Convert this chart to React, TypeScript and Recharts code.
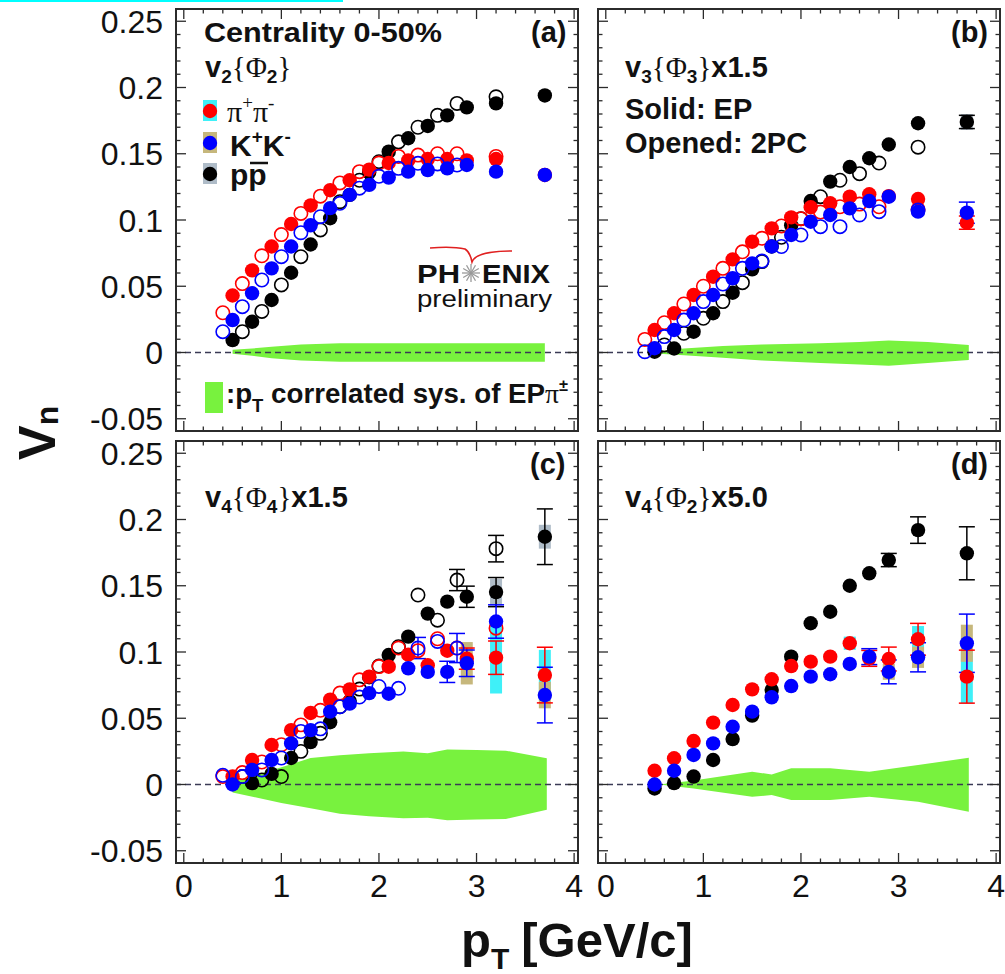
import React from "react";
import { ComposedChart, Scatter, Area, XAxis, YAxis, ReferenceLine, ErrorBar } from "recharts";

// [pT, value, stat. error, sys. error]
type Row = [number, number, number?, number?];

// ---- panel (a): v2{Phi2}
const A_PI_EP: Row[] = [[0.5, 0.043], [0.7, 0.062], [0.9, 0.08], [1.1, 0.097], [1.3, 0.111], [1.5, 0.1225], [1.7, 0.13], [1.9, 0.138], [2.1, 0.143], [2.3, 0.145], [2.5, 0.146], [2.7, 0.146], [2.9, 0.145], [3.2, 0.146], [3.7, 0.134]];
const A_PI_2PC: Row[] = [[0.4, 0.03], [0.6, 0.052], [0.8, 0.073], [1.0, 0.089], [1.2, 0.105], [1.4, 0.118], [1.6, 0.128], [1.8, 0.1365], [2.0, 0.143], [2.2, 0.148], [2.4, 0.149], [2.6, 0.15], [2.8, 0.15], [3.2, 0.148]];
const A_K_EP: Row[] = [[0.5, 0.0245], [0.7, 0.0447], [0.9, 0.0635], [1.1, 0.08], [1.3, 0.096], [1.5, 0.109], [1.7, 0.119], [1.9, 0.1265], [2.1, 0.132], [2.3, 0.1365], [2.5, 0.1377], [2.7, 0.139], [2.9, 0.1415], [3.2, 0.1365], [3.7, 0.134]];
const A_K_2PC: Row[] = [[0.4, 0.0157], [0.6, 0.0346], [0.8, 0.0547], [1.0, 0.0723], [1.2, 0.0904], [1.4, 0.1025], [1.6, 0.1126], [1.8, 0.124], [2.0, 0.133], [2.2, 0.139], [2.4, 0.1428], [2.6, 0.1423], [2.8, 0.1415]];
const A_P_EP: Row[] = [[0.5, 0.0094], [0.7, 0.0232], [0.9, 0.0396], [1.1, 0.0602], [1.3, 0.0815], [1.5, 0.1013], [1.7, 0.119], [1.9, 0.136], [2.1, 0.1516], [2.3, 0.1617], [2.5, 0.171], [2.7, 0.179], [2.9, 0.185], [3.2, 0.188], [3.7, 0.194]];
const A_P_2PC: Row[] = [[0.6, 0.0157], [0.8, 0.031], [1.0, 0.051], [1.2, 0.0723], [1.4, 0.0925], [1.6, 0.1138], [1.8, 0.13], [2.0, 0.144], [2.2, 0.159], [2.4, 0.17], [2.6, 0.179], [2.8, 0.188], [3.2, 0.193]];
const A_BAND_X = [0.5, 0.7, 0.9, 1.2, 1.6, 2.0, 2.5, 3.0, 3.7];
const A_BAND_LO = [-0.001, -0.0025, -0.0044, -0.006, -0.007, -0.007, -0.007, -0.007, -0.007];
const A_BAND_HI = [0.002, 0.003, 0.0044, 0.006, 0.007, 0.007, 0.007, 0.007, 0.007];

// ---- panel (b): v3{Phi3} x1.5
const B_PI_EP: Row[] = [[0.5, 0.017], [0.7, 0.0296], [0.9, 0.0434], [1.1, 0.0572], [1.3, 0.0703], [1.5, 0.0836], [1.7, 0.0937], [1.9, 0.102], [2.1, 0.1096], [2.3, 0.1126], [2.5, 0.1176], [2.7, 0.1194], [2.9, 0.118], [3.2, 0.1158], [3.7, 0.098, 0.005]];
const B_PI_2PC: Row[] = [[0.4, 0.0099], [0.6, 0.0225], [0.8, 0.0366], [1.0, 0.05], [1.2, 0.0635], [1.4, 0.076], [1.6, 0.0862], [1.8, 0.0955], [2.0, 0.101], [2.2, 0.106], [2.4, 0.11], [2.6, 0.112], [2.8, 0.11], [3.2, 0.108]];
const B_K_EP: Row[] = [[0.5, 0.0032], [0.7, 0.017], [0.9, 0.0296], [1.1, 0.0434], [1.3, 0.056], [1.5, 0.0673], [1.7, 0.08], [1.9, 0.0887], [2.1, 0.0987], [2.3, 0.1038], [2.5, 0.1088], [2.7, 0.1143], [2.9, 0.1176], [3.2, 0.1063], [3.7, 0.1055, 0.008]];
const B_K_2PC: Row[] = [[0.4, 0.0006], [0.6, 0.012], [0.8, 0.0245], [1.0, 0.0384], [1.2, 0.0517], [1.4, 0.0635], [1.6, 0.069], [1.8, 0.08], [2.0, 0.0887], [2.2, 0.095], [2.4, 0.095], [2.6, 0.1038], [2.8, 0.1063], [3.2, 0.1075]];
const B_P_EP: Row[] = [[0.5, 0.0006], [0.7, 0.003], [0.9, 0.0157], [1.1, 0.0296], [1.3, 0.0451], [1.5, 0.0628], [1.7, 0.08], [1.9, 0.096], [2.1, 0.1143], [2.3, 0.129], [2.5, 0.14], [2.7, 0.1466], [2.9, 0.157], [3.2, 0.173], [3.7, 0.174, 0.005, 0.006]];
const B_P_2PC: Row[] = [[0.6, 0.0057], [0.8, 0.0145], [1.0, 0.0258], [1.2, 0.0384], [1.4, 0.0527], [1.6, 0.0686], [1.8, 0.087], [2.0, 0.101], [2.2, 0.1176], [2.4, 0.13], [2.6, 0.135], [2.8, 0.143], [3.2, 0.155]];
const B_BAND_X = [0.55, 0.8, 1.2, 1.6, 2.2, 2.6, 2.9, 3.3, 3.72];
const B_BAND_LO = [-0.001, -0.002, -0.004, -0.006, -0.008, -0.009, -0.01, -0.008, -0.0057];
const B_BAND_HI = [0.001, 0.003, 0.005, 0.006, 0.007, 0.008, 0.009, 0.008, 0.0057];

// ---- panel (c): v4{Phi4} x1.5
const C_PI_EP: Row[] = [[0.5, 0.006], [0.7, 0.0185], [0.9, 0.0298], [1.1, 0.041], [1.3, 0.054], [1.5, 0.064], [1.7, 0.0718], [1.9, 0.0814], [2.1, 0.0889], [2.3, 0.098], [2.5, 0.09], [2.7, 0.101], [2.9, 0.095, 0.008], [3.2, 0.0957, 0.0126, 0.027], [3.7, 0.0826, 0.021, 0.019]];
const C_PI_2PC: Row[] = [[0.4, 0.006], [0.6, 0.009], [0.8, 0.017], [1.0, 0.03], [1.2, 0.045], [1.4, 0.056], [1.6, 0.069], [1.8, 0.079], [2.0, 0.089], [2.2, 0.103], [2.4, 0.101], [2.6, 0.11], [2.8, 0.103], [3.2, 0.118]];
const C_K_EP: Row[] = [[0.5, 0.0], [0.7, 0.011], [0.9, 0.0185], [1.1, 0.031], [1.3, 0.041], [1.5, 0.055], [1.7, 0.061], [1.9, 0.069], [2.1, 0.0685], [2.3, 0.0877], [2.5, 0.085], [2.7, 0.085, 0.008], [2.9, 0.0915, 0.01, 0.016], [3.2, 0.123, 0.0126], [3.7, 0.0675, 0.021, 0.01]];
const C_K_2PC: Row[] = [[0.4, 0.007], [0.6, 0.006], [0.8, 0.011], [1.0, 0.02], [1.2, 0.04], [1.4, 0.042], [1.6, 0.0587], [1.8, 0.066], [2.0, 0.074], [2.2, 0.0726], [2.4, 0.103, 0.008], [2.6, 0.108], [2.8, 0.103, 0.011]];
const C_P_EP: Row[] = [[0.7, 0.001], [0.9, 0.008], [1.1, 0.02], [1.3, 0.032], [1.5, 0.047], [1.7, 0.063], [1.9, 0.081], [2.1, 0.0977], [2.3, 0.1116], [2.5, 0.129], [2.7, 0.138], [2.9, 0.1417, 0.008], [3.2, 0.1452, 0.011, 0.01], [3.7, 0.187, 0.021, 0.009]];
const C_P_2PC: Row[] = [[0.6, 0.006], [0.8, 0.0034], [1.0, 0.006], [1.2, 0.025], [1.4, 0.0386], [1.6, 0.0587], [1.8, 0.072], [2.0, 0.0894], [2.2, 0.104], [2.4, 0.143], [2.6, 0.124], [2.8, 0.1543, 0.008], [3.2, 0.178, 0.01]];
const C_BAND_X = [0.5, 1.0, 1.3, 1.6, 1.9, 2.25, 2.5, 2.7, 3.0, 3.3, 3.72];
const C_BAND_LO = [-0.006, -0.014, -0.018, -0.022, -0.024, -0.0255, -0.025, -0.027, -0.0265, -0.026, -0.019];
const C_BAND_HI = [0.002, 0.013, 0.02, 0.022, 0.0235, 0.025, 0.0235, 0.0265, 0.026, 0.0255, 0.0198];

// ---- panel (d): v4{Phi2} x5.0
const D_PI_EP: Row[] = [[0.5, 0.0104], [0.7, 0.0198], [0.9, 0.0328], [1.1, 0.0467], [1.3, 0.06], [1.5, 0.0718], [1.7, 0.0794], [1.9, 0.0894], [2.1, 0.0927], [2.3, 0.0965], [2.5, 0.1066, 0, 0.005], [2.7, 0.0952, 0.006], [2.9, 0.0947, 0.009], [3.2, 0.1096, 0.012, 0.01], [3.7, 0.0814, 0.02, 0.02]];
const D_K_EP: Row[] = [[0.5, 0.0], [0.7, 0.0104], [0.9, 0.0223], [1.1, 0.031], [1.3, 0.0436], [1.5, 0.055], [1.7, 0.0658], [1.9, 0.0743], [2.1, 0.0814], [2.3, 0.0832], [2.5, 0.091], [2.7, 0.0965, 0.006], [2.9, 0.085, 0.009, 0.006], [3.2, 0.096, 0.011, 0.008], [3.7, 0.1066, 0.022, 0.014]];
const D_P_EP: Row[] = [[0.5, -0.003], [0.7, 0.001], [0.9, 0.006], [1.1, 0.0185], [1.3, 0.0343], [1.5, 0.052], [1.7, 0.0713], [1.9, 0.0965], [2.1, 0.1217], [2.3, 0.1304], [2.5, 0.15], [2.7, 0.1594], [2.9, 0.1694, 0.005], [3.2, 0.192, 0.01], [3.7, 0.1745, 0.02]];
const D_BAND_X = [0.55, 0.9, 1.5, 1.7, 1.9, 2.3, 2.7, 3.2, 3.72];
const D_BAND_LO = [0, -0.003, -0.0092, -0.008, -0.0117, -0.0117, -0.0092, -0.013, -0.0205];
const D_BAND_HI = [0, 0.003, 0.0097, 0.0075, 0.0122, 0.0122, 0.0097, 0.0147, 0.0202];

// ---- axes
const X_MAJOR = [0, 1, 2, 3, 4];
const X_MINOR = [0.2, 0.4, 0.6, 0.8, 1.2, 1.4, 1.6, 1.8, 2.2, 2.4, 2.6, 2.8, 3.2, 3.4, 3.6, 3.8];
const Y_MAJOR = [-0.05, 0, 0.05, 0.1, 0.15, 0.2, 0.25];
const Y_MINOR = [-0.04, -0.03, -0.02, -0.01, 0.01, 0.02, 0.03, 0.04, 0.06, 0.07, 0.08, 0.09, 0.11, 0.12, 0.13, 0.14, 0.16, 0.17, 0.18, 0.19, 0.21, 0.22, 0.23, 0.24];

const RED = "#ff0000";
const BLUE = "#0000ff";
const BLACK = "#000000";
const CYAN = "#3ff0f8";
const KHAKI = "#c6b77c";
const GREYBOX = "#afbcc8";
const GREEN = "#78f23e";
const FRAME = "#2b2b2b";
const SANS = "'Liberation Sans', Arial, Helvetica, sans-serif";
const SERIF = "'Liberation Serif', 'DejaVu Serif', serif";

const PW = 404;
const PH = 424;
const ML = 100;
const MT = 12;
const MR = 12;
const MB = 50;

type Series = { rows: Row[]; color: string; open?: boolean; sys?: string };

const toPts = (rows: Row[]) => rows.map(([x, y, e, s]) => ({ x, y, e, s }));
const toBand = (xs: number[], lo: number[], hi: number[]) => xs.map((x, i) => ({ x, band: [lo[i], hi[i]] }));
const isIn = (arr: number[], v: number) => arr.some((m) => Math.abs(m - v) < 1e-9);

const marker = (color: string, open?: boolean) => (p: any) =>
  open ? (
    <circle cx={p.cx} cy={p.cy} r={6.7} fill="none" stroke={color} strokeWidth={1.6} />
  ) : (
    <circle cx={p.cx} cy={p.cy} r={7.2} fill={color} />
  );

function Panel({ left, top, band, series, xLabels, yLabels }: { left: number; top: number; band: any[]; series: Series[]; xLabels?: boolean; yLabels?: boolean }) {
  const yTick = (p: any) => {
    const { x, y, payload } = p;
    const major = isIn(Y_MAJOR, payload.value);
    const len = major ? 11 : 5.5;
    return (
      <g>
        <line x1={x} x2={x + len} y1={y} y2={y} stroke={FRAME} strokeWidth={1.3} />
        <line x1={x + PW} x2={x + PW - len} y1={y} y2={y} stroke={FRAME} strokeWidth={1.3} />
        {yLabels && major && (
          <text x={x - 12} y={y + 11.5} textAnchor="end" fontSize={32} fontFamily={SANS} fill="#111">
            {String(payload.value)}
          </text>
        )}
      </g>
    );
  };
  const xTick = (p: any) => {
    const { x, y, payload } = p;
    const major = isIn(X_MAJOR, payload.value);
    const len = major ? 11 : 5.5;
    return (
      <g>
        <line x1={x} x2={x} y1={y} y2={y - len} stroke={FRAME} strokeWidth={1.3} />
        <line x1={x} x2={x} y1={y - PH} y2={y - PH + len} stroke={FRAME} strokeWidth={1.3} />
        {xLabels && major && (
          <text x={x} y={y + 33} textAnchor="middle" fontSize={32} fontFamily={SANS} fill="#111">
            {String(payload.value)}
          </text>
        )}
      </g>
    );
  };

  return (
    <div style={{ position: "absolute", left: left - ML, top: top - MT }}>
      <ComposedChart width={PW + ML + MR} height={PH + MT + MB} data={band} margin={{ left: 10, top: MT, right: MR, bottom: 10 }}>
        <XAxis type="number" dataKey="x" domain={[-0.09, 4.05]} allowDataOverflow ticks={[...X_MAJOR, ...X_MINOR]} interval={0} tick={xTick} tickLine={false} axisLine={false} height={MB - 10} tickSize={0} tickMargin={0} />
        <YAxis type="number" dataKey="y" domain={[-0.06, 0.26]} allowDataOverflow ticks={[...Y_MAJOR, ...Y_MINOR]} interval={0} tick={yTick} tickLine={false} axisLine={false} width={ML - 10} tickSize={0} tickMargin={0} />
        <Area dataKey="band" type="linear" stroke="none" fill={GREEN} fillOpacity={1} isAnimationActive={false} />
        <ReferenceLine y={0} stroke="#3a3a55" strokeDasharray="6 4" strokeWidth={1.3} />
        {series
          .filter((s) => s.sys)
          .map((s, i) => (
            <Scatter key={"sys" + i} data={toPts(s.rows)} shape={() => <g />} isAnimationActive={false}>
              <ErrorBar dataKey="s" direction="y" width={0} stroke={s.sys} strokeWidth={12} isAnimationActive={false} />
            </Scatter>
          ))}
        {series.map((s, i) => (
          <Scatter key={"s" + i} data={toPts(s.rows)} shape={marker(s.color, s.open)} isAnimationActive={false}>
            <ErrorBar dataKey="e" direction="y" width={8} stroke={s.color} strokeWidth={1.5} isAnimationActive={false} />
          </Scatter>
        ))}
      </ComposedChart>
      <div style={{ position: "absolute", left: ML, top: MT, width: PW, height: PH, border: `2px solid ${FRAME}`, boxSizing: "border-box", pointerEvents: "none" }} />
    </div>
  );
}

const B = { fontFamily: SANS, fontWeight: 700, fill: "#111" } as const;

function Annotations() {
  const star = Array.from({ length: 12 }, (_, i) => (i * Math.PI) / 6);
  return (
    <svg width={1005} height={974} style={{ position: "absolute", left: 0, top: 0, pointerEvents: "none" }}>
      <rect x={0} y={0} width={343} height={2} fill="#00ffff" />

      {/* panel (a) */}
      <text x={204} y={42} fontSize={28} {...B} textLength={238} lengthAdjust="spacingAndGlyphs">Centrality 0-50%</text>
      <text x={531} y={42} fontSize={29} {...B}>(a)</text>
      <text x={205} y={77} fontSize={29} {...B}>
        v<tspan fontSize={19} dy={6}>2</tspan>
        <tspan dy={-6} fontFamily={SERIF} fontWeight={400}>{"{Φ"}</tspan>
        <tspan fontSize={19} dy={6}>2</tspan>
        <tspan dy={-6} fontFamily={SERIF} fontWeight={400}>{"}"}</tspan>
      </text>

      <rect x={203} y={100} width={14} height={21} fill={CYAN} />
      <circle cx={210} cy={111} r={7.2} fill={RED} />
      <text x={227} y={122} fontSize={30} fontFamily={SERIF} fill="#111">
        π<tspan fontSize={19} dy={-13}>+</tspan>
        <tspan dy={13}>π</tspan>
        <tspan fontSize={19} dy={-13}>-</tspan>
      </text>
      <rect x={203} y={132} width={14} height={21} fill={KHAKI} />
      <circle cx={210} cy={143} r={7.2} fill={BLUE} />
      <text x={230} y={156} fontSize={30} {...B}>
        K<tspan fontSize={19} dy={-13}>+</tspan>
        <tspan dy={13}>K</tspan>
        <tspan fontSize={19} dy={-13}>-</tspan>
      </text>
      <rect x={203} y={163} width={14} height={21} fill={GREYBOX} />
      <circle cx={210} cy={174} r={7.2} fill={BLACK} />
      <text x={230} y={185} fontSize={30} {...B}>pp</text>
      <line x1={250} x2={268} y1={163} y2={163} stroke="#111" strokeWidth={2.5} />

      {/* PHENIX logo */}
      <path d="M430,248 Q452,246 465,249 Q470,252 472,262 Q476,251 512,251" fill="none" stroke="#e02020" strokeWidth={1.6} />
      <text x={417} y={283} fontSize={26} {...B} textLength={43} lengthAdjust="spacingAndGlyphs">PH</text>
      {star.map((a, i) => (
        <line key={i} x1={471} y1={273} x2={471 + 9 * Math.cos(a)} y2={273 + 9 * Math.sin(a)} stroke="#9a9a9a" strokeWidth={1.3} />
      ))}
      <text x={482} y={283} fontSize={26} {...B} textLength={68} lengthAdjust="spacingAndGlyphs">ENIX</text>
      <text x={417} y={307} fontSize={23} fontFamily={SANS} fill="#111" textLength={135} lengthAdjust="spacingAndGlyphs">preliminary</text>

      <rect x={205} y={382} width={18} height={31} fill={GREEN} />
      <text x={226} y={403} fontSize={27} {...B} textLength={342} lengthAdjust="spacingAndGlyphs">
        :p<tspan fontSize={18} dy={9}>T</tspan>
        <tspan dy={-9}> correlated sys. of EP</tspan>
        <tspan fontFamily={SERIF} fontWeight={400}>π</tspan>
        <tspan fontSize={16} dy={-12}>±</tspan>
      </text>

      {/* panel (b) */}
      <text x={951} y={42} fontSize={29} {...B}>(b)</text>
      <text x={625} y={77} fontSize={29} {...B}>
        v<tspan fontSize={19} dy={6}>3</tspan>
        <tspan dy={-6} fontFamily={SERIF} fontWeight={400}>{"{Φ"}</tspan>
        <tspan fontSize={19} dy={6}>3</tspan>
        <tspan dy={-6} fontFamily={SERIF} fontWeight={400}>{"}"}</tspan>
        <tspan>x1.5</tspan>
      </text>
      <text x={625} y={119} fontSize={29} {...B}>Solid: EP</text>
      <text x={625} y={153} fontSize={29} {...B}>Opened: 2PC</text>

      {/* panel (c) */}
      <text x={530} y={474} fontSize={29} {...B}>(c)</text>
      <text x={205} y={507} fontSize={29} {...B}>
        v<tspan fontSize={19} dy={6}>4</tspan>
        <tspan dy={-6} fontFamily={SERIF} fontWeight={400}>{"{Φ"}</tspan>
        <tspan fontSize={19} dy={6}>4</tspan>
        <tspan dy={-6} fontFamily={SERIF} fontWeight={400}>{"}"}</tspan>
        <tspan>x1.5</tspan>
      </text>

      {/* panel (d) */}
      <text x={951} y={474} fontSize={29} {...B}>(d)</text>
      <text x={625} y={507} fontSize={29} {...B}>
        v<tspan fontSize={19} dy={6}>4</tspan>
        <tspan dy={-6} fontFamily={SERIF} fontWeight={400}>{"{Φ"}</tspan>
        <tspan fontSize={19} dy={6}>2</tspan>
        <tspan dy={-6} fontFamily={SERIF} fontWeight={400}>{"}"}</tspan>
        <tspan>x5.0</tspan>
      </text>

      {/* axis titles */}
      <text transform="translate(55,460) rotate(-90)" fontSize={52} {...B}>
        V<tspan fontSize={32} dy={3}>n</tspan>
      </text>
      <text x={461} y={957} fontSize={49} {...B}>
        p<tspan fontSize={30} dy={12}>T</tspan>
        <tspan fontSize={49} dy={-12} dx={12}>[GeV/c]</tspan>
      </text>
    </svg>
  );
}

export default function App() {
  const seriesA: Series[] = [
    { rows: A_P_2PC, color: BLACK, open: true },
    { rows: A_P_EP, color: BLACK, sys: GREYBOX },
    { rows: A_PI_2PC, color: RED, open: true },
    { rows: A_PI_EP, color: RED, sys: CYAN },
    { rows: A_K_2PC, color: BLUE, open: true },
    { rows: A_K_EP, color: BLUE, sys: KHAKI },
  ];
  const seriesB: Series[] = [
    { rows: B_P_2PC, color: BLACK, open: true },
    { rows: B_P_EP, color: BLACK, sys: GREYBOX },
    { rows: B_PI_2PC, color: RED, open: true },
    { rows: B_PI_EP, color: RED, sys: CYAN },
    { rows: B_K_2PC, color: BLUE, open: true },
    { rows: B_K_EP, color: BLUE, sys: KHAKI },
  ];
  const seriesC: Series[] = [
    { rows: C_P_2PC, color: BLACK, open: true },
    { rows: C_P_EP, color: BLACK, sys: GREYBOX },
    { rows: C_PI_2PC, color: RED, open: true },
    { rows: C_PI_EP, color: RED, sys: CYAN },
    { rows: C_K_2PC, color: BLUE, open: true },
    { rows: C_K_EP, color: BLUE, sys: KHAKI },
  ];
  const seriesD: Series[] = [
    { rows: D_P_EP, color: BLACK, sys: GREYBOX },
    { rows: D_PI_EP, color: RED, sys: CYAN },
    { rows: D_K_EP, color: BLUE, sys: KHAKI },
  ];

  return (
    <div style={{ position: "absolute", left: 0, top: 0, width: 1005, height: 974, background: "#fff", overflow: "hidden" }}>
      <Panel left={175} top={8} band={toBand(A_BAND_X, A_BAND_LO, A_BAND_HI)} series={seriesA} yLabels />
      <Panel left={597} top={8} band={toBand(B_BAND_X, B_BAND_LO, B_BAND_HI)} series={seriesB} />
      <Panel left={175} top={440} band={toBand(C_BAND_X, C_BAND_LO, C_BAND_HI)} series={seriesC} xLabels yLabels />
      <Panel left={597} top={440} band={toBand(D_BAND_X, D_BAND_LO, D_BAND_HI)} series={seriesD} xLabels />
      <Annotations />
    </div>
  );
}
